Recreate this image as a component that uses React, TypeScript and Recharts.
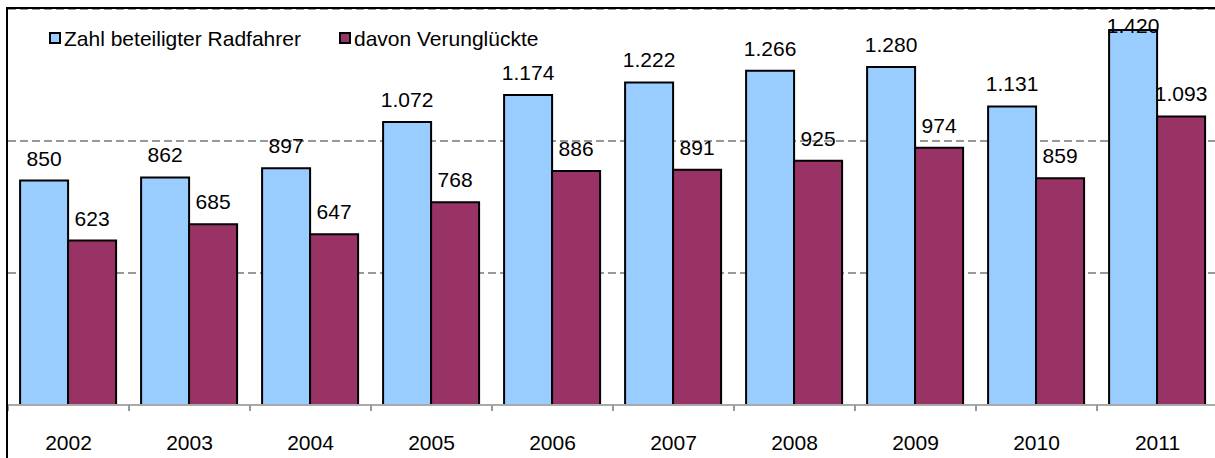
import { Bar, BarChart, CartesianGrid, LabelList, Legend, XAxis, YAxis } from "recharts";

const years = ["2002", "2003", "2004", "2005", "2006", "2007", "2008", "2009", "2010", "2011"];
const radfahrer = [850, 862, 897, 1072, 1174, 1222, 1266, 1280, 1131, 1420];
const verunglueckte = [623, 685, 647, 768, 886, 891, 925, 974, 859, 1093];
const gridTicks = [500, 1000];

const FONT = "'Liberation Sans', Arial, sans-serif";
const BLUE = "#99CCFF";
const PURPLE = "#993366";

const data = years.map((year, i) => ({
  year,
  radfahrer: radfahrer[i],
  verunglueckte: verunglueckte[i],
}));

// 1072 -> "1.072"
const formatDe = (v: number) => String(v).replace(/\B(?=(\d{3})+(?!\d))/g, ".");

const BarLabel = (props: any) =>
{
  const { x, y, width, value } = props;
  // Excel pushes labels that would leave the plot back inside
  const ty = Math.max(y - 15, 33);
  return (
    <text x={x + width / 2} y={ty} textAnchor="middle" fontSize={21} fontFamily={FONT} fill="#000">
      {formatDe(value)}
    </text>
  );
};

const YearTick = (props: any) =>
{
  const { x, y, payload, width, visibleTicksCount } = props;
  const half = payload?.offset ?? width / visibleTicksCount / 2;
  return (
    <g>
      <line x1={x - half} x2={x - half} y1={y} y2={y + 6} stroke="#999" strokeWidth={2}/>
      <text x={x} y={y + 45} textAnchor="middle" fontSize={21} fontFamily={FONT} fill="#000">
        {payload.value}
      </text>
    </g>
  );
};

const LegendContent = (props: any) =>
{
  const items = props.payload ?? [];
  return (
    <div style={{ display: "flex", alignItems: "center", fontFamily: FONT, fontSize: 21, color: "#000", whiteSpace: "nowrap" }}>
      {items.map((item: any, i: number) => (
        <div key={i} style={{ display: "flex", alignItems: "center", marginRight: 38 }}>
          <span style={{
            display: "inline-block", width: 8, height: 8, border: "2px solid #000",
            background: item.color, marginRight: 3, marginTop: -3
          }}/>
          <span>{item.value}</span>
        </div>
      ))}
    </div>
  );
};

export default function App()
{
  return (
    <div style={{ position: "absolute", left: 0, top: 0, width: 1215, height: 458, overflow: "hidden", background: "#fff" }}>
      <BarChart
        width={1220}
        height={458}
        data={data}
        margin={{ top: 9, right: 2, left: 8, bottom: 0 }}
        barCategoryGap="10%"
        barGap={0}
      >
        <CartesianGrid vertical={false} stroke="#999" strokeWidth={2} strokeDasharray="8 4"/>
        <XAxis
          dataKey="year"
          height={53}
          tickLine={false}
          tickSize={0}
          tickMargin={0}
          axisLine={{ stroke: "#aaa", strokeWidth: 2 }}
          tick={<YearTick/>}
          interval={0}
        />
        <YAxis hide domain={[0, 1500]} ticks={gridTicks} allowDataOverflow/>
        <Legend
          layout="horizontal"
          verticalAlign="middle"
          align="center"
          wrapperStyle={{ top: 27, left: 49, width: "auto" }}
          content={<LegendContent/>}
        />
        <Bar dataKey="radfahrer" name="Zahl beteiligter Radfahrer" fill={BLUE} stroke="#000" strokeWidth={2} isAnimationActive={false}>
          <LabelList dataKey="radfahrer" content={<BarLabel/>}/>
        </Bar>
        <Bar dataKey="verunglueckte" name="davon Verunglückte" fill={PURPLE} stroke="#000" strokeWidth={2} isAnimationActive={false}>
          <LabelList dataKey="verunglueckte" content={<BarLabel/>}/>
        </Bar>
      </BarChart>
      <div style={{
        position: "absolute", left: 6, top: 7, width: 1300, height: 600,
        borderLeft: "2px solid #000", borderTop: "2px solid #000", pointerEvents: "none"
      }}/>
    </div>
  );
}
